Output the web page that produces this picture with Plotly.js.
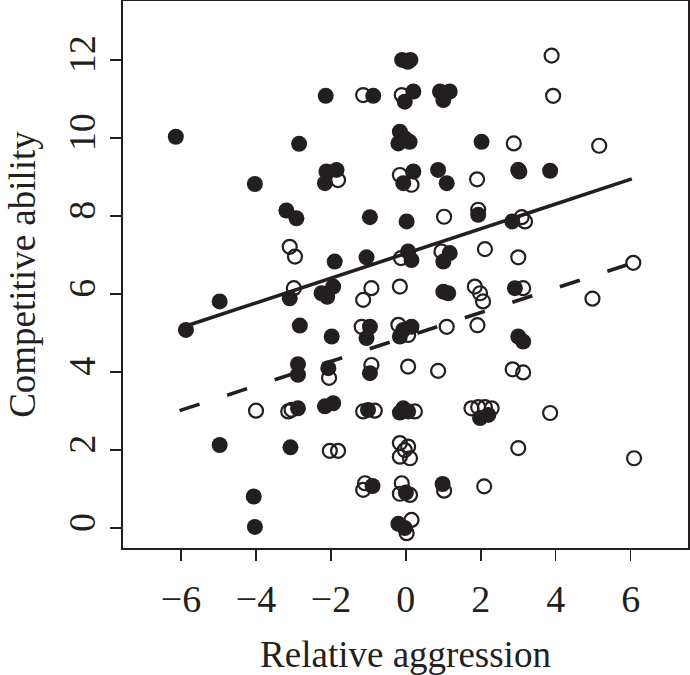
<!DOCTYPE html>
<html>
<head>
<meta charset="utf-8">
<script src="https://cdn.plot.ly/plotly-3.0.1.min.js"></script>
<style>
  html, body { margin: 0; padding: 0; background: #fff; }
  #plot { width: 690px; height: 675px; }
</style>
</head>
<body>
<div id="plot"></div>
<script>
// filled circles
var filledX = [-6.14, -2.85, -4.03, -2.14, -0.87, -0.1, 0.05, 0.12, 0.2, -0.03,
  0.91, 1.17, 1.0, -0.16, -0.03, 0.1, -0.2, 2.02, -2.12, -1.85,
  -2.16, 0.2, -0.07, 0.86, 1.09, 3.03, 3.85, -3.19, -2.92, -3.1,
  -4.97, -5.87, -2.83, -2.88, -2.88, -0.96, 0.02, 1.93, -1.9, -1.05,
  0.06, 0.15, 1.17, 1.0, -2.25, -2.1, -1.94, 1.0, 1.13, -1.98,
  -0.96, -1.05, -0.07, 0.15, -0.16, -2.07, -0.96, 2.84, 2.91, 3.0,
  3.13, -2.88, -4.97, -3.08, -4.06, -4.03, -2.16, -1.94, -1.01, -0.07,
  0.06, -0.16, 1.98, 2.2, -0.89, 0.0, 0.98, -0.2, -0.03];
var filledY = [10.03, 9.85, 8.82, 11.08, 11.08, 12.0, 11.95, 12.0, 11.19, 10.93,
  11.19, 11.19, 10.97, 10.16, 9.99, 9.9, 9.86, 9.9, 9.14, 9.18,
  8.84, 9.14, 8.84, 9.18, 8.84, 9.14, 9.16, 8.14, 7.94, 5.89,
  5.81, 5.08, 5.19, 4.2, 3.93, 7.97, 7.86, 8.03, 6.83, 6.94,
  7.09, 6.87, 7.05, 6.83, 6.02, 5.93, 6.19, 6.06, 6.02, 4.91,
  5.16, 4.87, 5.08, 5.16, 4.91, 4.1, 3.97, 7.86, 6.15, 4.91,
  4.78, 3.07, 2.13, 2.07, 0.81, 0.03, 3.12, 3.2, 3.03, 3.07,
  2.99, 2.96, 2.82, 2.9, 1.08, 0.91, 1.13, 0.11, 0.0];

// open circles
var openX = [-1.14, -0.11, -1.81, -0.16, 0.15, 1.9, 3.89, 3.93, 2.88, 5.16,
  3.0, -3.1, -2.96, -2.99, 1.02, 1.93, -0.13, 0.95, 2.11, -0.92,
  -1.14, -0.16, 1.84, 1.98, 2.06, -1.18, -0.2, 0.06, 1.09, 1.91,
  -2.05, -0.92, 0.06, 0.86, 3.09, 3.18, 3.0, 3.13, 4.98, 6.07,
  2.85, 3.13, -4.0, -3.14, -3.05, -1.14, -0.83, 0.24, 1.75, 1.93,
  2.11, 2.29, -2.03, -1.81, -0.16, 0.06, -0.16, 0.11, -0.03, -1.09,
  -1.14, -0.11, -0.16, 0.11, 1.02, 2.09, 0.15, 0.02, 3.85, 3.0, 6.09];
var openY = [11.1, 11.1, 8.92, 9.05, 8.8, 8.94, 12.11, 11.08, 9.86, 9.8,
  9.18, 7.21, 6.96, 6.15, 7.98, 8.16, 6.92, 7.09, 7.15, 6.15,
  5.85, 6.19, 6.19, 6.02, 5.81, 5.16, 5.21, 4.95, 5.16, 5.2,
  3.85, 4.18, 4.14, 4.03, 7.97, 7.86, 6.94, 6.15, 5.88, 6.8,
  4.07, 3.99, 3.01, 2.99, 3.03, 2.99, 3.01, 2.99, 3.07, 3.1,
  3.1, 3.07, 1.98, 1.98, 2.18, 2.09, 1.83, 1.79, 2.0, 1.15,
  0.98, 1.15, 0.88, 0.85, 0.96, 1.07, 0.21, -0.13, 2.95, 2.05, 1.79];

// fitted lines (end points)
var solidX = [-5.87, 6.03];
var solidY = [5.18, 8.95];
var dashedX = [-6.04, 6.07];
var dashedY = [3.01, 6.8];

var ink = '#231f20';
var serif = 'Liberation Serif, Times New Roman, serif';

var traces = [
  {
    x: openX, y: openY, mode: 'markers', type: 'scatter',
    marker: {symbol: 'circle-open', size: 14, color: ink, line: {width: 2.2, color: ink}}
  },
  {
    x: filledX, y: filledY, mode: 'markers', type: 'scatter',
    marker: {symbol: 'circle', size: 16, color: ink, line: {width: 0}}
  },
  {
    x: solidX, y: solidY, mode: 'lines', type: 'scatter',
    line: {color: ink, width: 3.6}
  },
  {
    x: dashedX, y: dashedY, mode: 'lines', type: 'scatter',
    line: {color: ink, width: 3.6, dash: '21px,29px'}
  }
];

var layout = {
  width: 690,
  height: 675,
  margin: {l: 123, r: 2, t: 1, b: 127},
  showlegend: false,
  paper_bgcolor: '#fff',
  plot_bgcolor: '#fff',
  font: {family: serif, color: ink},
  xaxis: {
    range: [-7.55, 7.53],
    tickvals: [-6, -4, -2, 0, 2, 4, 6],
    ticks: 'outside', ticklen: 11, tickwidth: 1.5, tickcolor: ink,
    showline: true, linewidth: 2, linecolor: ink, mirror: true,
    showgrid: false, zeroline: false,
    ticklabelstandoff: 5,
    tickfont: {size: 38, family: serif, color: ink},
    title: {text: 'Relative aggression', font: {size: 37, family: serif, color: ink}, standoff: 24}
  },
  yaxis: {
    range: [-0.51, 13.51],
    tickvals: [0, 2, 4, 6, 8, 10, 12],
    tickangle: -90,
    ticks: 'outside', ticklen: 11, tickwidth: 1.5, tickcolor: ink,
    showline: true, linewidth: 2, linecolor: ink, mirror: true,
    showgrid: false, zeroline: false,
    tickfont: {size: 38, family: serif, color: ink},
    title: {text: 'Competitive ability', font: {size: 37, family: serif, color: ink}, standoff: 14}
  }
};

Plotly.newPlot('plot', traces, layout, {displayModeBar: false, staticPlot: true});
</script>
</body>
</html>
